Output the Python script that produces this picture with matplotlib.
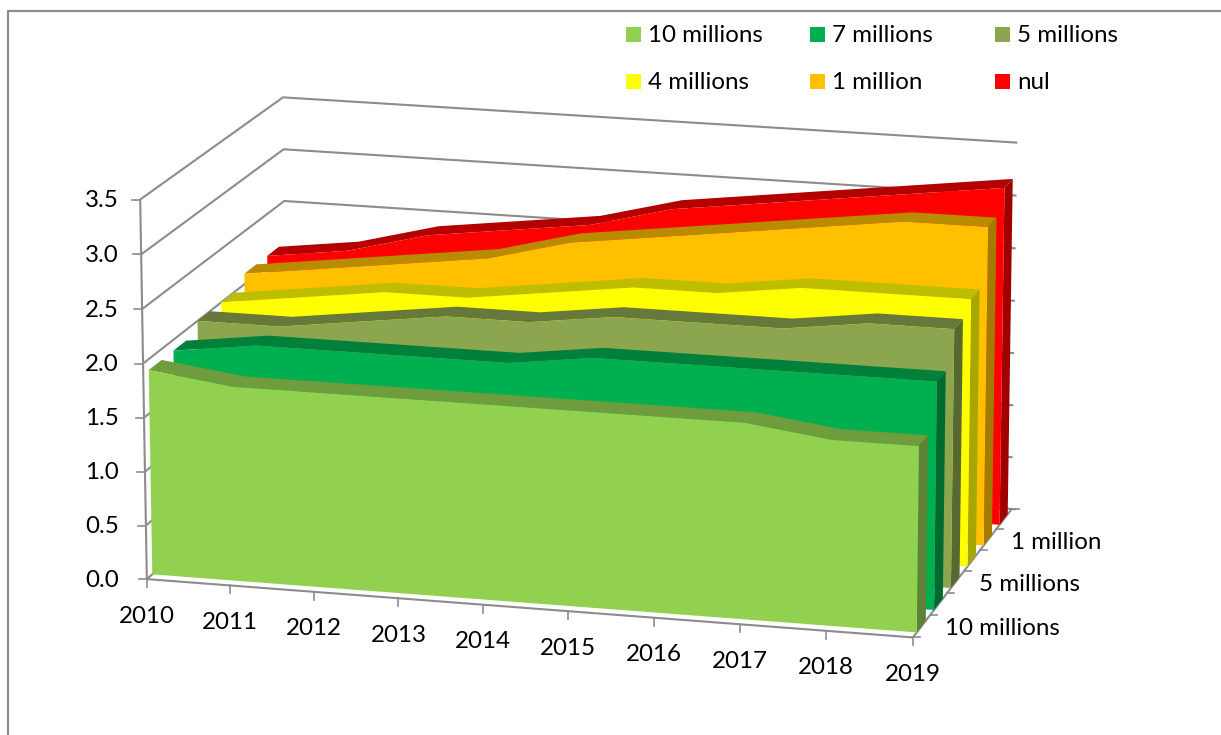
import numpy as np
import matplotlib
matplotlib.use('Agg')
import matplotlib.pyplot as plt

years = ['2010', '2011', '2012', '2013', '2014', '2015', '2016', '2017', '2018', '2019']
series_names = ['10 millions', '7 millions', '5 millions', '4 millions', '1 million', 'nul']
y_ticks = [0.0, 0.5, 1.0, 1.5, 2.0, 2.5, 3.0, 3.5]

v_10m = [1.9, 1.8, 1.8, 1.8, 1.8, 1.8, 1.8, 1.8, 1.7, 1.7]
v_7m = [1.9, 2.0, 2.0, 2.0, 2.0, 2.1, 2.1, 2.1, 2.1, 2.1]
v_5m = [2.0, 2.0, 2.1, 2.2, 2.2, 2.3, 2.3, 2.3, 2.4, 2.4]
v_4m = [2.0, 2.1, 2.2, 2.2, 2.3, 2.4, 2.4, 2.5, 2.5, 2.5]
v_1m = [2.1, 2.2, 2.3, 2.4, 2.6, 2.7, 2.8, 2.9, 3.0, 3.0]
v_nul = [2.1, 2.2, 2.4, 2.5, 2.6, 2.8, 2.9, 3.0, 3.1, 3.2]
all_values = [v_10m, v_7m, v_5m, v_4m, v_1m, v_nul]

# front, top and side colour of each slab
front_cols = ['#92D050', '#00B050', '#8BA64F', '#FFFF00', '#FFC000', '#FF0000']
top_cols = ['#6F9C3C', '#00803A', '#66793A', '#BFBD00', '#B88B00', '#B50000']
side_cols = ['#5F8236', '#006B30', '#586832', '#A8A600', '#A37B00', '#A00000']

GRAY = '#8C8C8C'
TXT = '#000000'
FONT = 'Lato'
FS = 17.4

# camera: box corners (x, value, depth) -> pixels
box = np.array([[0, 0, 0], [1, 0, 0], [1, 0, 1], [0, 3.5, 0], [0, 3.5, 1], [1, 3.5, 1],
                [1, 1.7, 0.037]], float)
pix = np.array([[147, 579], [912, 638], [1012, 509], [140, 200], [283, 97], [1017, 143],
                [920, 445]], float)
rows = []
for (x, v, d), (u, w) in zip(box, pix):
    rows.append([x, v, d, 1, 0, 0, 0, 0, -u*x, -u*v, -u*d, -u])
    rows.append([0, 0, 0, 0, x, v, d, 1, -w*x, -w*v, -w*d, -w])
P = np.linalg.svd(np.array(rows))[2][-1].reshape(3, 4)

def proj(x, v, d):
    x, v, d = np.broadcast_arrays(np.asarray(x, float), np.asarray(v, float), np.asarray(d, float))
    h = P @ np.vstack([x.ravel(), v.ravel(), d.ravel(), np.ones(x.size)])
    return h[0] / h[2], h[1] / h[2]

def proj1(x, v, d):
    px, py = proj(x, v, d)
    return float(px[0]), float(py[0])

fig = plt.figure(figsize=(12.21, 7.35), dpi=100)
ax = fig.add_axes([0, 0, 1, 1])
ax.set_xlim(0, 1221)
ax.set_ylim(735, 0)
ax.axis('off')

def line(xs, vs, ds, lw=1.5, z=1):
    px, py = proj(xs, vs, ds)
    ax.plot(px, py, color=GRAY, lw=lw, zorder=z, solid_capstyle='butt')

# outer frame of the chart
ax.plot([8, 8, 1221], [735, 11, 11], color=GRAY, lw=1.6, zorder=1)

# walls
for t in y_ticks:
    line([0, 0, 1.006 if t == 0 else 1], [t, t, t], [0, 1, 1])

# floor and axes
line([0, 1], [0, 0], [0, 0], z=1)
line([1, 1], [0, 0], [0, 1], z=1)
line([0, 0], [0, 3.5], [0, 0], z=1)
xpos = np.arange(len(years)) / (len(years) - 1)
for k, name in enumerate(years):
    px, py = proj1(xpos[k], 0, 0)
    ax.plot([px, px], [py, py + 8], color=GRAY, lw=1.2, zorder=1)
    ax.text(px, py + 37, name, ha='center', va='center', family=FONT, fontsize=FS, color=TXT)
for t in y_ticks:
    px, py = proj1(0, t, 0)
    ax.plot([px - 8, px], [py, py], color=GRAY, lw=1.2, zorder=1)
    ax.text(119, py + 1, '%.1f' % t, ha='right', va='center', family=FONT, fontsize=FS, color=TXT)
for i in range(7):
    px, py = proj1(1, 0, i / 6)
    ax.plot([px, px + 7], [py, py], color=GRAY, lw=1.2, zorder=1)
for i in [0, 2, 4]:
    px, py = proj1(1, 0, (i + 0.5) / 6)
    ax.text(px + 23, py + 2.5, series_names[i], ha='left', va='center', family=FONT, fontsize=FS, color=TXT)

# slabs, back to front
for i in range(len(all_values) - 1, -1, -1):
    vals = np.array(all_values[i])
    df = (i + 0.22) / 6
    db = (i + 0.74) / 6
    z = 10 + (len(all_values) - i) * 3
    fx, fy = proj(xpos, vals, df)
    bx, by = proj(xpos, vals, db)
    ax.fill(np.r_[fx, bx[::-1]], np.r_[fy, by[::-1]], color=top_cols[i], lw=0, zorder=z)
    sx, sy = proj([1, 1, 1, 1], [0, vals[-1], vals[-1], 0], [df, df, db, db])
    ax.fill(sx, sy, color=side_cols[i], lw=0, zorder=z + 1)
    bx0, by0 = proj([1, 0], [0, 0], df)
    ax.fill(np.r_[fx, bx0], np.r_[fy, by0], color=front_cols[i], lw=0, zorder=z + 2)

# legend
legend_x = [626, 810, 995]
legend_y = [34, 81]
for i, name in enumerate(series_names):
    lx = legend_x[i % 3]
    ly = legend_y[i // 3]
    ax.fill([lx, lx + 15, lx + 15, lx], [ly - 7, ly - 7, ly + 8, ly + 8], color=front_cols[i], lw=0, zorder=50)
    ax.text(lx + 22, ly + 1.5, name, ha='left', va='center', family=FONT, fontsize=FS, color=TXT, zorder=50)

fig.savefig('out.png', dpi=100)
